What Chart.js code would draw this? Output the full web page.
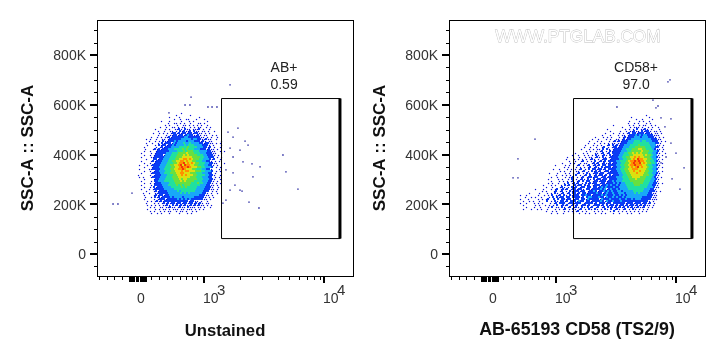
<!DOCTYPE html>
<html>
<head>
<meta charset="utf-8">
<script src="https://cdn.jsdelivr.net/npm/chart.js@4"></script>
<style>
  html, body { margin: 0; padding: 0; background: #fff; }
  canvas { position: absolute; top: 0; }
  #left { left: 0; }
  #right { left: 352px; }
</style>
</head>
<body>
<canvas id="left" width="363" height="360"></canvas>
<canvas id="right" width="363" height="360"></canvas>
<script>
// y values are in K, x values in decades of the biexponential axis (3 = 10^3)
const yMajorTicks = [0, 200, 400, 600, 800];
const yMinorTicks = [-50, 50, 100, 150, 250, 300, 350, 450, 500, 550, 650, 700, 750, 850, 900];
const xMajorTicks = [3, 4];
const xMinorTicks = [2.123, 2.189, 2.253, 2.314, 2.557, 2.628, 2.692,
  2.731, 2.803, 2.853, 2.9, 2.944, 3.3, 3.48, 3.615, 3.71, 3.79, 3.86, 3.92, 3.97];
// the bunched ticks around zero
const xZeroTicks = [2.375, 2.383, 2.392, 2.4, 2.408, 2.417, 2.433, 2.442, 2.45, 2.467, 2.475, 2.483, 2.492, 2.5, 2.508, 2.517];
const xLabels = [['0', 2.475], ['10', 3, '3'], ['10', 4, '4']];

const gateX = [3.146, 4.133, 4.133, 3.146, 3.146];
const gateY = [625, 625, 62, 62, 625];
const gateEdgeX = [4.133, 4.133];
const gateEdgeY = [625, 62];

// density cells, '.' empty, 1-8 blue to red
const cellRowTop = 566.8;   // K, top row
const cellRowStep = 8.04;   // K per row
const cellColStep = 1 / 60;
const leftColStart = 2.4417;
const rightColStart = 2.675;

const leftCells = [
  "......................1.....................",
  "...................1......1..................",
  "................1....1.........1.............",
  "..................1..1..11...1...1...........",
  "............1...1.....1...1.1......1.........",
  "...............1..11.1.1..1...11.1...........",
  "..............1.1...1..11.1.1.1.1..1.........",
  "...........1..1..11.1.11..1.1.11..1.1........",
  ".........1....1.1..1121.211.1112.1..1........",
  "..........1..1..11.1.212112.211.11.1..1......",
  "........1..1.1.1.1221212212212211.1.1........",
  "..........1...1.1122122123221121.11..1.1.....",
  ".......1..1.1.11212222223322222211.1.1..1....",
  "....1.1..1..11.1222222333332332211211..1.....",
  "......1..1.1.2112223233332333222121.11....1..",
  "....1..1..1.21222132333433433332212211.1.1...",
  ".....1...1.21221223233334344433332221.1...1..",
  "...1.....1.12122233334444544443332212.1..1...",
  "....1...1212122233344445454443332221211.1....",
  "...1..1..122222233334445455544433332211..1.1.",
  "..1....1.1222223334445555655544433322211..1..",
  "...1..1.1222213334445556565555444332221.1....",
  "..1....11222223334445556666655554433222.1.1..",
  "....1...2212233344455667767655544333212..1...",
  "..1....1212223334455667767665544433221.1.1...",
  "...1..1.12223334445567786767655444332211...1.",
  ".1...1.12222333445566786877665544433221.1....",
  "...1...1222333444556678778766655443332.1.1...",
  ".1....11222233444556677876665544433221...1...",
  "...1..1.122333444556667677666555443332.1.1...",
  "..1....1222233444555667766655544433322.1.....",
  "1.....1.1222333444556676766655444433221..1...",
  ".1.1...1222233344455566666655544433322.1.1...",
  "...1....1223334444555656655555444333221..1...",
  "..1....1.223334444455565655554444333221.1....",
  "...1..1.122233334445555555544454433221.1.1...",
  "..1....1.222233344445454555444443332211.1....",
  "...1..1.212223333444445454444433332221..1....",
  "..1...1.1222223333344444444444333322211.1....",
  "....1...1212222333334344444443333222.1.1.....",
  "...1..1..112222233333343434333333221.1..1....",
  "...1....1212212233333333333333322211.1.......",
  "....1..1.21212222323333233333222221.1.1......",
  "...1....1.1222122222323232322222211.1........",
  ".....1.1.1212122222222222212211.1..1.........",
  "....1...1.1.121212212212212212121.11.........",
  ".....1.1.1.1.1121.2121212112121211.1.1.......",
  "......1.1..11.11211.1211.2111.11.1..1........",
  ".....1...1.1.11.1.111.11.111.1.1.1...........",
  "......1.1..1.1.11..1.11.1..1.1...............",
  ".......1..1.1...1....1...1.1................."
];

const rightCells = [
  ".......... .......... .......... .......... .......... .......... .......... .....",
  ".......... .......... .......... .......... .......... .......... ....1..... .....",
  ".......... .......... .......... .......... .......... .......1.. ......1... .....",
  ".......... .......... .......... .......... .......... .........1 ..1....1.. .....",
  ".......... .......... .......... .......... .......... ......1... .1.1..1... .....",
  ".......... .......... .......... .......... .......... .....1..1. 1...1.1... .....",
  ".......... .......... .......... .......... ........1. ......1.1. .1.11..1.1 .....",
  ".......... .......... .......... .......... .......... ..1...1.11 1.1..1.1.. 1....",
  ".......... .......... .......... .......... .....1.... ....1.1.1. 2.1121.1.. .1...",
  ".......... .......... .......... .......... ......1... .1..1.1121 1.21221.11 .1...",
  ".......... .......... .......... .......... ....1...1. .1.1.12.22 12221221.1 1.1..",
  ".......... .......... .......... .......... ..1...1... 1.11.12223 2323322211 1....",
  ".......... .......... .......... .........1 ...1.1.1.. .1.1212223 3323332221 .1.1.",
  ".......... .......... .......... .......1.. 1...1.1..1 1.12122333 3333333222 11...",
  ".......... .......... .......... ......1... 1.1...1.12 1212223334 4434433322 2.1.1",
  ".......... .......... .......... .....1..1. .1.1.1.11. 1122233344 4444443332 21...",
  ".......... .......... .......... ....1...1. 1.1..12.21 2122333444 4544444333 11.1.",
  ".......... .......... .......... ...1..1..1 ..12.1.122 1223334445 5555444332 2.1..",
  ".......... .......... .......... ..1...1.1. 11.2.21.12 2223344455 5665544432 11.1.",
  ".......... .......... .......... ....1.1..1 .12.1.2122 2233344555 5565554433 2.1..",
  ".......... .......... .........1 ...1.1...1 1.12.12.22 2233445565 6565554433 21..1",
  ".......... .......... .......1.. 1..1.1.1.2 1.121.2122 2334445566 6665655433 1.1..",
  ".......... .......... .....1.... .1..1.11.1 21.21.1222 2334455667 6766555433 21...",
  ".......... .......... ....1...1. 1.1.1.121. 1.122.1222 2334455676 8776655433 1.1..",
  ".......... .......... ......1..1 ..12.1.1.2 .1212.2222 3344456778 7877655443 21...",
  ".......... .......... ..1...1.1. .1.11..121 2.12112122 3344556787 7867655443 1.1..",
  ".......... .........1 ....1.1... 12.1.12.12 12.22.2222 3344556778 7776654433 21...",
  ".......... .......... ...1.1...1 .1.1.12.12 1.21222122 3344556767 8676654433 1.1..",
  ".......... ........1. .1...1.1.1 .12.1.2.22 12212.2222 3344556677 7666654433 2....",
  ".......... .......... .1.1..1..1 1.12.1.212 12.1221222 3344556676 6766554433 1.1..",
  ".......... ......1... 1...1.1.1. 12.1.21.12 2122.12222 2334455666 7666554433 21...",
  ".......... .........1 ..1.1.1..2 .1.12.2.12 12212.2122 2334455666 6665554432 1....",
  ".......... .......1.. 1...1.112. 1.12.12212 2.12212222 3334445566 6655544432 1.1..",
  ".......... .....1.... 1.1..1.2.1 .121.21.21 22122.2222 3334445556 5555444332 1....",
  ".......... .......1.. .1.1.1.12. 12.2.22.12 2122212232 3334444555 5555444332 1....",
  ".......... .....1.1.. 1..1.2.121 2.1.212122 .122122232 3233444455 5554443322 1.1..",
  ".......... ...1...1.1 ..1.212.12 122.212.12 2212232322 3233344445 5544443322 1....",
  ".......... ....1..1.. .121.1.212 .122.22.22 1232322232 2333344444 4444433321 1....",
  ".........1 ...1...1.1 2.1212.122 1221.22122 2232312322 3233334444 4444333221 .....",
  ".......... ..1.1...12 .12.1.2122 2122.12232 1223232322 3323333344 4443332221 .1...",
  "......1... .1...1.1.2 1.12.12.22 12.2212222 3221232232 2333233334 3433332211 .....",
  ".1..1..... 1..1.1.2.1 12.21.2122 2.22322122 2232322232 2323233333 3333322211 .....",
  "....1..1.1 ..1...1.2. 2122.22.22 2212.23322 2322132232 3223233333 3332222211 .....",
  ".1...1.... 1.1.12..2. 2.22122.12 2.22132222 2132223222 2322322323 3322222111 .....",
  "...1..1.1. .1...2.1.2 1.2212.222 1322.22122 2232132232 2232222222 2222221.1. .....",
  ".1..1...1. 1.1...1.12 .222.12212 22.1222212 .222122.22 2222122212 2212212.1. .....",
  "...1.....1 .1..1.1.1. 2.1212.121 2.12212.12 2212.21221 2122121221 2121211.1. .....",
  "....1...1. .1...1.2.1 1.21.12.12 1.21.212.1 2.12.21212 1212.21211 2112.1.1.. .....",
  "...1...1.. 1.1..1...1 .1.12.1.21 .12.1.21.2 1.1.21.2.1 21.12.1.21 .1.1.1.... .....",
  ".......... ....1..1.1 ...1.1.1.1 2.1.1...1. 1.1...1.2. 1.1.1.1.1. 1.1.1..... .....",
  ".......... .......1.. 1..1....1. .1..1.1..1 ..1.1...1. .1...1.1.. .1........ ....."
];

// stray events away from the main clouds
const leftStrayX = [3.217, 2.892, 2.842, 2.883, 2.708, 3.033, 3.067, 3.108, 3.658, 3.683, 3.783, 3.375, 3.458, 2.242, 2.283,
  2.4, 3.2, 3.283, 3.242, 3.342, 3.367, 3.217, 3.3, 3.242, 3.325, 3.4, 3.467, 3.408, 3.183, 3.242, 3.217, 3.3, 3.317, 3.158, 3.258, 3.183];
const leftStrayY = [680, 631, 599, 599, 567, 591, 591, 591, 398, 330, 261, 209, 185, 201, 201,
  245, 490, 506, 470, 454, 438, 426, 418, 390, 370, 362, 350, 310, 338, 326, 257, 257, 253, 205, 277, 217];
const rightStrayX = [3.95, 3.933, 3.808, 3.833, 3.85, 3.508, 3.958, 2.825, 3.958, 4.0, 2.683, 4.067, 2.642, 2.683, 3.908, 3.875, 3.917, 3.875, 3.967, 4.033];
const rightStrayY = [700, 692, 619, 587, 595, 591, 543, 462, 446, 406, 382, 346, 306, 306, 511, 547, 390, 366, 302, 261];

const levelColors = ['#0810d8', '#0a3cf5', '#18a8f8', '#20e0a0', '#68e040', '#dce010', '#ff9000', '#f03808'];
const levelRadius = [0.85, 1.42, 1.42, 1.42, 1.42, 1.42, 1.42, 1.42];

function cellDatasets(rows, colStart, strayX, strayY) {
  const levels = levelColors.map(() => []);
  rows.forEach((row, r) => {
    [...row.replace(/ /g, '')].forEach((ch, c) => {
      if (ch !== '.') {
        // small level 1 dots sit on a pixel centre, so a quarter cell across and down
        const shift = ch === '1' ? 0.25 : 0;
        // odd rows are staggered half a cell, keeps columns from lining up
        const stagger = r % 2 ? 0.5 : 0;
        levels[+ch - 1].push({
          x: colStart + (c + shift + stagger) * cellColStep,
          y: cellRowTop - (r + shift) * cellRowStep
        });
      }
    });
  });
  const sets = levels.map((pts, i) => ({
    data: pts,
    pointStyle: 'rect',
    pointRadius: levelRadius[i],
    pointBorderWidth: 0,
    backgroundColor: levelColors[i],
    showLine: false
  }));
  sets.push({
    data: strayX.map((x, i) => ({ x: x, y: strayY[i] })),
    pointStyle: 'rect',
    pointRadius: 0.9,
    pointBorderWidth: 0,
    backgroundColor: '#000090',
    showLine: false
  });
  return sets;
}

function gateDatasets() {
  return [
    {
      data: gateX.map((x, i) => ({ x: x, y: gateY[i] })),
      showLine: true, borderColor: '#000', borderWidth: 1, pointRadius: 0, tension: 0
    },
    {
      data: gateEdgeX.map((x, i) => ({ x: x, y: gateEdgeY[i] })),
      showLine: true, borderColor: '#000', borderWidth: 3, pointRadius: 0, tension: 0
    }
  ];
}

const framePlugin = {
  id: 'frame',
  afterDraw(chart, args, opts) {
    const { ctx, chartArea: a, scales: { x, y } } = chart;
    ctx.save();
    ctx.strokeStyle = '#000';
    ctx.lineWidth = 1;
    ctx.strokeRect(a.left + 0.5, a.top + 0.5, a.right - a.left, a.bottom - a.top);

    // tick marks
    function mark(x1, y1, x2, y2, w) {
      ctx.lineWidth = w;
      ctx.beginPath();
      ctx.moveTo(x1, y1);
      ctx.lineTo(x2, y2);
      ctx.stroke();
    }
    yMinorTicks.forEach(v => {
      const p = Math.round(y.getPixelForValue(v)) + 0.5;
      mark(a.left - 3, p, a.left, p, 1);
    });
    yMajorTicks.forEach(v => {
      const p = Math.round(y.getPixelForValue(v));
      mark(a.left - 7, p, a.left, p, 2);
    });
    xMinorTicks.forEach(v => {
      const p = Math.round(x.getPixelForValue(v)) + 0.5;
      mark(p, a.bottom, p, a.bottom + 4, 1);
    });
    xZeroTicks.forEach(v => {
      const p = Math.round(x.getPixelForValue(v)) + 0.5;
      mark(p, a.bottom, p, a.bottom + 6, 1);
    });
    xMajorTicks.forEach(v => {
      const p = Math.round(x.getPixelForValue(v));
      mark(p, a.bottom, p, a.bottom + 7, 2);
    });

    // x tick labels, exponent written beside the 10
    ctx.fillStyle = '#333';
    ctx.font = '14px "Liberation Sans"';
    ctx.textBaseline = 'middle';
    xLabels.forEach(([txt, v, exp]) => {
      const p = x.getPixelForValue(v);
      if (exp) {
        ctx.textAlign = 'left';
        ctx.fillText(txt, p - 1, 299);
        ctx.font = '15px "Liberation Sans"';
        ctx.fillText(exp, p + 13, 291);
        ctx.font = '14px "Liberation Sans"';
      } else {
        ctx.textAlign = 'center';
        ctx.fillText(txt, p, 299);
      }
    });

    // gate caption
    ctx.textAlign = 'center';
    ctx.fillStyle = '#222';
    const cx = x.getPixelForValue(opts.captionX);
    ctx.fillText(opts.caption, cx, y.getPixelForValue(748));
    ctx.fillText(opts.percent, cx, y.getPixelForValue(680));

    if (opts.watermark) {
      ctx.font = '17.2px "Liberation Sans"';
      ctx.lineWidth = 0.8;
      ctx.strokeStyle = '#bdbdbd';
      ctx.fillStyle = '#fff';
      ctx.strokeText(opts.watermark, x.getPixelForValue(3.183), y.getPixelForValue(872));
      ctx.fillText(opts.watermark, x.getPixelForValue(3.183), y.getPixelForValue(872));
    }
    ctx.restore();
  }
};

function drawPanel(id, cfg) {
  return new Chart(document.getElementById(id), {
    type: 'scatter',
    data: { datasets: gateDatasets().concat(cellDatasets(cfg.cells, cfg.colStart, cfg.strayX, cfg.strayY)) },
    plugins: [framePlugin],
    options: {
      responsive: false,
      animation: false,
      events: [],
      layout: { padding: { top: 20, right: 10, left: 0, bottom: 0 } },
      plugins: {
        legend: { display: false },
        tooltip: { enabled: false },
        frame: { caption: cfg.caption, percent: cfg.percent, captionX: cfg.captionX, watermark: cfg.watermark }
      },
      scales: {
        x: {
          type: 'linear',
          min: 2.10833,
          max: 4.24167,
          afterFit(s) { s.height = 84; },
          grid: { display: false, drawTicks: false },
          border: { display: false },
          ticks: { display: false },
          title: {
            display: true,
            text: cfg.xTitle,
            color: '#111',
            font: { family: 'Liberation Sans', size: cfg.xTitleSize, weight: 'bold' },
            padding: { top: 0, bottom: 19 }
          }
        },
        y: {
          type: 'linear',
          min: -88.4,
          max: 940.7,
          afterBuildTicks(s) { s.ticks = yMajorTicks.map(v => ({ value: v })); },
          afterFit(s) { s.width = 97; },
          grid: { display: false, drawTicks: false },
          border: { display: false },
          ticks: {
            padding: 11,
            labelOffset: 1.5,
            color: '#333',
            font: { family: 'Liberation Sans', size: 14 },
            callback: v => (v === 0 ? '0' : v + 'K')
          },
          title: {
            display: true,
            text: 'SSC-A :: SSC-A',
            color: '#111',
            font: { family: 'Liberation Sans', size: 17, weight: 'bold' },
            padding: { top: 18, bottom: 0 }
          }
        }
      }
    }
  });
}

drawPanel('left', {
  cells: leftCells, colStart: leftColStart, strayX: leftStrayX, strayY: leftStrayY,
  caption: 'AB+', percent: '0.59', captionX: 3.667, xTitle: 'Unstained', xTitleSize: 16.7
});
drawPanel('right', {
  cells: rightCells, colStart: rightColStart, strayX: rightStrayX, strayY: rightStrayY,
  caption: 'CD58+', percent: '97.0', captionX: 3.667, xTitle: 'AB-65193 CD58 (TS2/9)', xTitleSize: 17.8,
  watermark: 'WWW.PTGLAB.COM'
});
</script>
</body>
</html>
